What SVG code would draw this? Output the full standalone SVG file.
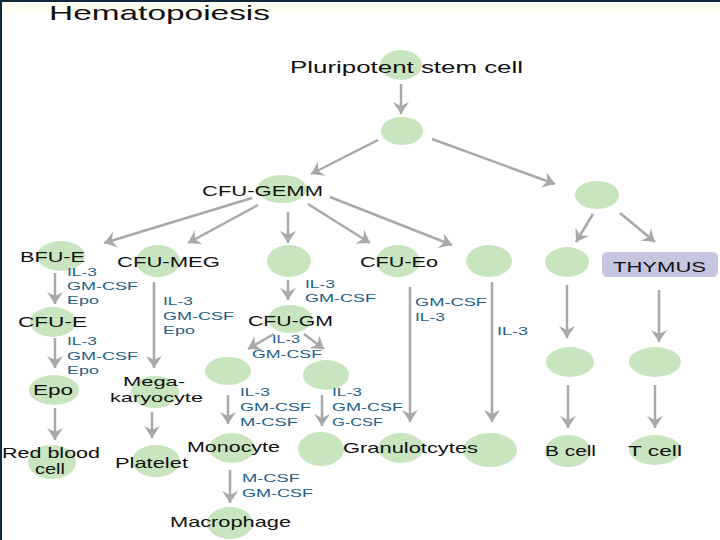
<svg xmlns="http://www.w3.org/2000/svg" width="720" height="540" viewBox="0 0 720 540">
<defs>
<style>
.cell{fill:#c9e5c0}
.lbl{font-family:"Liberation Sans",Arial,sans-serif;font-size:15px;fill:#111}
.cyt{font-family:"Liberation Sans",Arial,sans-serif;font-size:11.5px;fill:#1e6088}
.ar{stroke:#a9a9a9;stroke-width:2.5;fill:none;marker-end:url(#ah)}
</style>
<marker id="ah" viewBox="-13 -9 14 18" markerUnits="userSpaceOnUse" markerWidth="14" markerHeight="18" refX="0" refY="0" orient="auto">
<path d="M-12,-8 L0,0 L-12,8 L-8,0 Z" fill="#a9a9a9"/>
</marker>
</defs>
<rect x="0" y="0" width="720" height="540" fill="#ffffff"/>
<rect x="0" y="2" width="720" height="12" fill="#fffff3"/>
<rect x="0" y="0" width="720" height="2" fill="#0d2a3e"/>
<rect x="0" y="0" width="2" height="540" fill="#0d2a3e"/>
<text x="49" y="20" class="lbl" style="font-size:21px" textLength="221" lengthAdjust="spacingAndGlyphs">Hematopoiesis</text>

<g id="connectors">
<line class="ar" x1="401" y1="84" x2="401" y2="114"/>
<line class="ar" x1="378" y1="140" x2="311" y2="174"/>
<line class="ar" x1="432" y1="139" x2="555" y2="184"/>
<line class="ar" x1="252" y1="198" x2="104" y2="243"/>
<line class="ar" x1="258" y1="205" x2="188" y2="243"/>
<line class="ar" x1="288" y1="212" x2="288" y2="243"/>
<line class="ar" x1="308" y1="204" x2="370" y2="243"/>
<line class="ar" x1="330" y1="197" x2="452" y2="245"/>
<line class="ar" x1="593" y1="214" x2="576" y2="242"/>
<line class="ar" x1="620" y1="213" x2="655" y2="242"/>
<line class="ar" x1="55" y1="273" x2="55" y2="304"/>
<line class="ar" x1="55" y1="338" x2="55" y2="368"/>
<line class="ar" x1="55" y1="408" x2="55" y2="440"/>
<line class="ar" x1="154" y1="282" x2="154" y2="368"/>
<line class="ar" x1="152" y1="412" x2="152" y2="438"/>
<line class="ar" x1="288" y1="280" x2="288" y2="300"/>
<line class="ar" x1="274" y1="334" x2="248" y2="349"/>
<line class="ar" x1="304" y1="334" x2="324" y2="349"/>
<line class="ar" x1="228" y1="395" x2="228" y2="424"/>
<line class="ar" x1="322" y1="395" x2="322" y2="426"/>
<line class="ar" x1="410" y1="287" x2="410" y2="422"/>
<line class="ar" x1="492" y1="282" x2="492" y2="422"/>
<line class="ar" x1="567" y1="285" x2="567" y2="338"/>
<line class="ar" x1="659" y1="290" x2="659" y2="342"/>
<line class="ar" x1="568" y1="385" x2="568" y2="428"/>
<line class="ar" x1="655" y1="385" x2="655" y2="428"/>
<line class="ar" x1="230" y1="470" x2="230" y2="503"/>
</g>

<g id="stem"><ellipse class="cell" cx="401" cy="65" rx="21" ry="15"/>
<text x="290" y="73" class="lbl" style="font-size:17px" textLength="233" lengthAdjust="spacingAndGlyphs">Pluripotent stem cell</text></g>
<g id="progenitor"><ellipse class="cell" cx="402" cy="131" rx="21" ry="14"/></g>
<g id="cfu-gemm"><ellipse class="cell" cx="282" cy="189" rx="25" ry="14"/>
<text x="202" y="196" class="lbl" textLength="121" lengthAdjust="spacingAndGlyphs">CFU-GEMM</text></g>
<g id="lymphoid"><ellipse class="cell" cx="597" cy="195" rx="22" ry="14"/></g>

<g id="bfu-e"><ellipse class="cell" cx="61" cy="256" rx="24" ry="15"/>
<text x="20" y="262" class="lbl" textLength="65" lengthAdjust="spacingAndGlyphs">BFU-E</text>
<text x="67" y="276" class="cyt" textLength="30" lengthAdjust="spacingAndGlyphs">IL-3</text>
<text x="67" y="290" class="cyt" textLength="71" lengthAdjust="spacingAndGlyphs">GM-CSF</text>
<text x="67" y="304" class="cyt" textLength="32" lengthAdjust="spacingAndGlyphs">Epo</text></g>
<g id="cfu-meg"><ellipse class="cell" cx="158" cy="261" rx="22" ry="16"/>
<text x="117" y="267" class="lbl" textLength="103" lengthAdjust="spacingAndGlyphs">CFU-MEG</text>
<text x="163" y="305" class="cyt" textLength="30" lengthAdjust="spacingAndGlyphs">IL-3</text>
<text x="163" y="320" class="cyt" textLength="71" lengthAdjust="spacingAndGlyphs">GM-CSF</text>
<text x="163" y="334" class="cyt" textLength="32" lengthAdjust="spacingAndGlyphs">Epo</text></g>
<g id="mid"><ellipse class="cell" cx="289" cy="261" rx="22" ry="16"/>
<text x="305" y="288" class="cyt" textLength="30" lengthAdjust="spacingAndGlyphs">IL-3</text>
<text x="305" y="302" class="cyt" textLength="71" lengthAdjust="spacingAndGlyphs">GM-CSF</text></g>
<g id="cfu-eo"><ellipse class="cell" cx="398" cy="261" rx="22" ry="16"/>
<text x="360" y="267" class="lbl" textLength="78" lengthAdjust="spacingAndGlyphs">CFU-Eo</text>
<text x="415" y="306" class="cyt" textLength="72" lengthAdjust="spacingAndGlyphs">GM-CSF</text>
<text x="415" y="321" class="cyt" textLength="30" lengthAdjust="spacingAndGlyphs">IL-3</text></g>
<g id="baso"><ellipse class="cell" cx="489" cy="261" rx="23" ry="16"/>
<text x="497" y="335" class="cyt" textLength="31" lengthAdjust="spacingAndGlyphs">IL-3</text></g>
<g id="pre-b"><ellipse class="cell" cx="567" cy="262" rx="22" ry="15"/></g>
<g id="thymus"><rect x="602" y="252" width="116" height="25" rx="5" fill="#c6c6e0"/>
<text x="613" y="272" class="lbl" fill="#1a1a3a" textLength="93" lengthAdjust="spacingAndGlyphs">THYMUS</text></g>

<g id="cfu-e"><ellipse class="cell" cx="53" cy="322" rx="23" ry="15"/>
<text x="18" y="327" class="lbl" textLength="69" lengthAdjust="spacingAndGlyphs">CFU-E</text>
<text x="67" y="345" class="cyt" textLength="30" lengthAdjust="spacingAndGlyphs">IL-3</text>
<text x="67" y="360" class="cyt" textLength="71" lengthAdjust="spacingAndGlyphs">GM-CSF</text>
<text x="67" y="374" class="cyt" textLength="32" lengthAdjust="spacingAndGlyphs">Epo</text></g>
<g id="cfu-gm"><ellipse class="cell" cx="290" cy="319" rx="22" ry="14"/>
<text x="248" y="326" class="lbl" textLength="85" lengthAdjust="spacingAndGlyphs">CFU-GM</text>
<text x="272" y="343" class="cyt" textLength="28" lengthAdjust="spacingAndGlyphs">IL-3</text>
<text x="252" y="358" class="cyt" textLength="70" lengthAdjust="spacingAndGlyphs">GM-CSF</text></g>

<g id="cfu-m"><ellipse class="cell" cx="228" cy="371" rx="23" ry="14"/>
<text x="240" y="396" class="cyt" textLength="30" lengthAdjust="spacingAndGlyphs">IL-3</text>
<text x="240" y="411" class="cyt" textLength="71" lengthAdjust="spacingAndGlyphs">GM-CSF</text>
<text x="240" y="426" class="cyt" textLength="58" lengthAdjust="spacingAndGlyphs">M-CSF</text></g>
<g id="cfu-g"><ellipse class="cell" cx="326" cy="375" rx="23" ry="15"/>
<text x="332" y="396" class="cyt" textLength="30" lengthAdjust="spacingAndGlyphs">IL-3</text>
<text x="332" y="411" class="cyt" textLength="71" lengthAdjust="spacingAndGlyphs">GM-CSF</text>
<text x="332" y="426" class="cyt" textLength="51" lengthAdjust="spacingAndGlyphs">G-CSF</text></g>
<g id="b-pre"><ellipse class="cell" cx="570" cy="362" rx="24" ry="15"/></g>
<g id="t-pre"><ellipse class="cell" cx="655" cy="362" rx="26" ry="15"/></g>

<g id="epo"><ellipse class="cell" cx="54" cy="390" rx="25" ry="15"/>
<text x="33" y="395" class="lbl" textLength="40" lengthAdjust="spacingAndGlyphs">Epo</text></g>
<g id="megakaryocyte"><ellipse class="cell" cx="155" cy="392" rx="24" ry="16"/>
<text x="123" y="386" class="lbl" style="font-size:13.5px" textLength="62" lengthAdjust="spacingAndGlyphs">Mega-</text>
<text x="110" y="402" class="lbl" style="font-size:13.5px" textLength="93" lengthAdjust="spacingAndGlyphs">karyocyte</text></g>

<g id="rbc"><ellipse class="cell" cx="52" cy="462" rx="24" ry="17"/>
<text x="2" y="458" class="lbl" textLength="98" lengthAdjust="spacingAndGlyphs">Red blood</text>
<text x="35" y="474" class="lbl" textLength="30" lengthAdjust="spacingAndGlyphs">cell</text></g>
<g id="platelet"><ellipse class="cell" cx="156" cy="461" rx="24" ry="16"/>
<text x="115" y="468" class="lbl" textLength="73" lengthAdjust="spacingAndGlyphs">Platelet</text></g>
<g id="monocyte"><ellipse class="cell" cx="232" cy="448" rx="23" ry="15"/>
<text x="187" y="452" class="lbl" textLength="93" lengthAdjust="spacingAndGlyphs">Monocyte</text>
<text x="242" y="482" class="cyt" textLength="58" lengthAdjust="spacingAndGlyphs">M-CSF</text>
<text x="242" y="497" class="cyt" textLength="71" lengthAdjust="spacingAndGlyphs">GM-CSF</text></g>
<g id="neutro"><ellipse class="cell" cx="321" cy="449" rx="23" ry="17"/></g>
<g id="basophil"><ellipse class="cell" cx="490" cy="450" rx="27" ry="17"/></g>
<g id="granulocytes"><ellipse class="cell" cx="401" cy="448" rx="23" ry="15"/>
<text x="343" y="453" class="lbl" textLength="135" lengthAdjust="spacingAndGlyphs">Granulotcytes</text></g>
<g id="b-cell"><ellipse class="cell" cx="568" cy="451" rx="23" ry="16"/>
<text x="545" y="456" class="lbl" textLength="51" lengthAdjust="spacingAndGlyphs">B cell</text></g>
<g id="t-cell"><ellipse class="cell" cx="655" cy="450" rx="26" ry="15"/>
<text x="628" y="456" class="lbl" textLength="54" lengthAdjust="spacingAndGlyphs">T cell</text></g>
<g id="macrophage"><ellipse class="cell" cx="230" cy="523" rx="23" ry="16"/>
<text x="170" y="527" class="lbl" textLength="121" lengthAdjust="spacingAndGlyphs">Macrophage</text></g>
</svg>
